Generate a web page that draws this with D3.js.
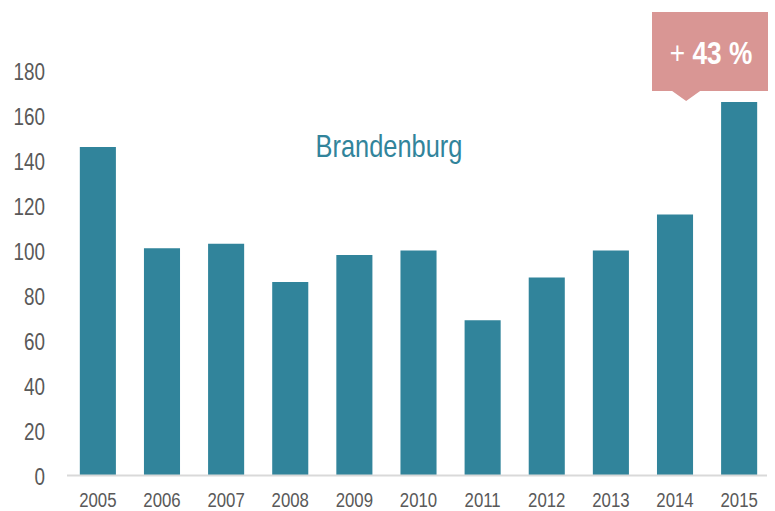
<!DOCTYPE html>
<html>
<head>
<meta charset="utf-8">
<script src="https://cdn.jsdelivr.net/npm/d3@7"></script>
<style>
  body { margin: 0; background: #fff; }
  svg text { font-family: "Liberation Sans Narrow", "Arial Narrow", "Liberation Sans", sans-serif; }
</style>
</head>
<body>
<svg id="chart"></svg>
<script>
// data
let years = ["2005","2006","2007","2008","2009","2010","2011","2012","2013","2014","2015"];
let values = [146, 101, 103, 86, 98, 100, 69, 88, 100, 116, 166];
let yTicks = [0, 20, 40, 60, 80, 100, 120, 140, 160, 180];
let title = "Brandenburg";
let changeLabel = ["+ ", "43 %"];

let width = 775, height = 511;
let barColor = "#31849b";
let squeeze = 0.82; // no narrow font installed, so squash the regular one

let svg = d3.select("#chart")
    .attr("width", width)
    .attr("height", height);

// scales
let x = d3.scaleBand()
    .domain(years)
    .range([67, 770])
    .paddingInner(0.4375)
    .paddingOuter(0.2);

let y = d3.scaleLinear()
    .domain([0, 180])
    .range([475.5, 70.5]);

// y axis labels (no line, no ticks)
let yAxis = d3.axisLeft(y).tickValues(yTicks).tickSize(0).tickPadding(0);
svg.append("g")
    .attr("transform", "translate(45,0)")
    .call(yAxis)
    .call(g => g.select(".domain").remove())
    .selectAll("text")
    .attr("fill", "#595959")
    .style("font-size", "23px")
    .attr("dy", "0.38em")
    .attr("transform", "scale(" + squeeze + ",1)");

// bars
svg.selectAll("rect.bar")
    .data(values)
    .enter()
    .append("rect")
    .attr("class", "bar")
    .attr("x", (d, i) => x(years[i]))
    .attr("y", d => y(d))
    .attr("width", x.bandwidth())
    .attr("height", d => y(0) - y(d))
    .attr("fill", barColor);

// x axis
let xAxis = d3.axisBottom(x).tickSize(0).tickPadding(17);
svg.append("g")
    .attr("transform", "translate(0," + y(0) + ")")
    .call(xAxis)
    .call(g => g.select(".domain")
        .attr("stroke", "#d9d9d9")
        .attr("stroke-width", 2)
        .attr("d", "M67,0H767"))
    .selectAll("text")
    .attr("fill", "#595959")
    .style("font-size", "20.5px")
    .attr("transform", "scale(" + squeeze + ",1)");

// title
svg.append("g")
    .attr("transform", "translate(389,157) scale(" + squeeze + ",1)")
    .append("text")
    .attr("text-anchor", "middle")
    .attr("fill", barColor)
    .style("font-size", "31px")
    .text(title);

// callout above last bar
let last = years[years.length - 1];
let cx = x(last) + x.bandwidth() / 2 - 53;
let box = {left: 652, right: 768, top: 12, bottom: 91};
svg.append("path")
    .attr("d", "M" + box.left + "," + box.top +
        "H" + box.right + "V" + box.bottom +
        "H" + (cx + 14) + "L" + cx + "," + (box.bottom + 10) +
        "L" + (cx - 14) + "," + box.bottom +
        "H" + box.left + "Z")
    .attr("fill", "#d99694");

let lab = svg.append("g")
    .attr("transform", "translate(" + ((box.left + box.right) / 2 + 1) + ",64) scale(" + squeeze + ",1)")
    .append("text")
    .attr("text-anchor", "middle")
    .attr("fill", "#fff")
    .style("font-size", "32px");
lab.append("tspan").text(changeLabel[0]);
lab.append("tspan").style("font-weight", "bold").text(changeLabel[1]);
</script>
</body>
</html>
